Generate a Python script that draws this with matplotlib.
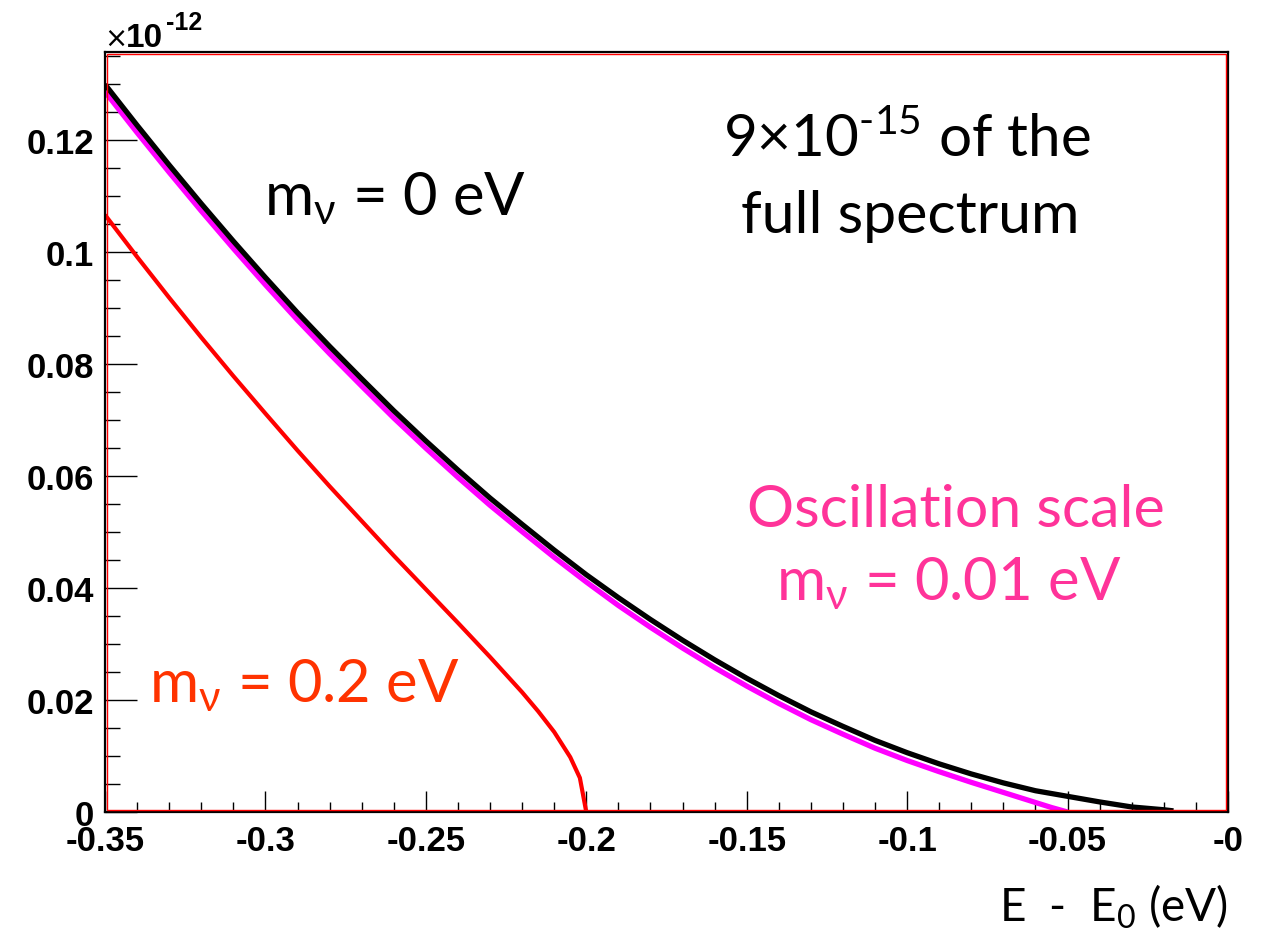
import matplotlib
matplotlib.use("Agg")
import matplotlib.pyplot as plt
from matplotlib.patches import Rectangle

# E - E0 (eV) sample points and spectrum heights (units of 1e-12)
x_m0 = [-0.35, -0.34, -0.33, -0.32, -0.31, -0.30, -0.29, -0.28, -0.27, -0.26,
        -0.25, -0.24, -0.23, -0.22, -0.21, -0.20, -0.19, -0.18, -0.17, -0.16,
        -0.15, -0.14, -0.13, -0.12, -0.11, -0.10, -0.09, -0.08, -0.07, -0.06,
        -0.05, -0.04, -0.03, -0.02, -0.017]
y_m0 = [0.1300, 0.1227, 0.1156, 0.1087, 0.1020, 0.0955, 0.0892, 0.0832, 0.0774, 0.0717,
        0.0663, 0.0611, 0.0561, 0.0514, 0.0468, 0.0424, 0.0383, 0.0344, 0.0307, 0.0272,
        0.0239, 0.0208, 0.0179, 0.0153, 0.0128, 0.0106, 0.0086, 0.0068, 0.0052, 0.0038,
        0.0028, 0.0018, 0.0009, 0.0004, 0.0002]

x_osc = [-0.35, -0.34, -0.33, -0.32, -0.31, -0.30, -0.29, -0.28, -0.27, -0.26,
         -0.25, -0.24, -0.23, -0.22, -0.21, -0.20, -0.19, -0.18, -0.17, -0.16,
         -0.15, -0.14, -0.13, -0.12, -0.11, -0.10, -0.09, -0.08, -0.07, -0.06,
         -0.055, -0.05]
y_osc = [0.1287, 0.1214, 0.1143, 0.1074, 0.1007, 0.0942, 0.0879, 0.0819, 0.0761, 0.0704,
         0.0650, 0.0598, 0.0548, 0.0501, 0.0455, 0.0411, 0.0369, 0.0330, 0.0293, 0.0258,
         0.0225, 0.0194, 0.0165, 0.0139, 0.0114, 0.0092, 0.0072, 0.0053, 0.0035, 0.0017,
         0.0008, 0.0]

x_m02 = [-0.35, -0.34, -0.33, -0.32, -0.31, -0.30, -0.29, -0.28, -0.27, -0.26,
         -0.25, -0.24, -0.23, -0.22, -0.215, -0.21, -0.205, -0.202, -0.20]
y_m02 = [0.1067, 0.0992, 0.0919, 0.0848, 0.0779, 0.0712, 0.0646, 0.0582, 0.0520, 0.0458,
         0.0398, 0.0338, 0.0277, 0.0214, 0.0180, 0.0143, 0.0098, 0.0061, 0.0]

xticks = [-0.35, -0.30, -0.25, -0.20, -0.15, -0.10, -0.05, 0.0]
xtick_labels = ["-0.35", "-0.3", "-0.25", "-0.2", "-0.15", "-0.1", "-0.05", "-0"]
yticks = [0.0, 0.02, 0.04, 0.06, 0.08, 0.1, 0.12]
ytick_labels = ["0", "0.02", "0.04", "0.06", "0.08", "0.1", "0.12"]

W, H = 1271, 937
fig = plt.figure(figsize=(W / 100, H / 100), dpi=100)
ax = fig.add_axes([105 / W, (H - 813) / H, 1123 / W, 760 / H])

ax.plot(x_osc, y_osc, color="#ff00ff", lw=3.8, solid_capstyle="butt", zorder=3)
ax.plot(x_m0, y_m0, color="black", lw=3.8, solid_capstyle="butt", zorder=4)
ax.plot(x_m02, y_m02, color="#ff0000", lw=3.0, solid_capstyle="butt", zorder=3)

ax.set_xlim(-0.35, 0.0)
ax.set_ylim(0, 0.1358)

ax.set_xticks(xticks)
ax.set_xticklabels(xtick_labels)
ax.set_xticks([i / 100 for i in range(-35, 1)], minor=True)
ax.set_yticks(yticks)
ax.set_yticklabels(ytick_labels)
ax.set_yticks([i / 200 for i in range(0, 28)], minor=True)

ax.tick_params(axis="both", which="both", direction="in", color="black", width=1.0,
               top=False, right=False)
ax.tick_params(axis="y", which="major", length=23, pad=8)
ax.tick_params(axis="y", which="minor", length=11)
ax.tick_params(axis="x", which="major", length=15, pad=9)
ax.tick_params(axis="x", which="minor", length=7.5)
for lab in ax.get_xticklabels() + ax.get_yticklabels():
    lab.set_family("Liberation Sans")
    lab.set_fontweight("bold")
    lab.set_fontsize(25)

for sp in ax.spines.values():
    sp.set_color("black")
    sp.set_linewidth(1.6)
    sp.set_zorder(6)

# thin red histogram outline sitting just inside the black frame
fig.patches.append(Rectangle((107 / W, (H - 811) / H), 1119 / W, 756 / H,
                             transform=fig.transFigure, fill=False,
                             edgecolor="#ff0000", lw=1.0, zorder=7))

# exponent of the y axis
fig.text(104 / W, 1 - 47 / H, r"$\times$", fontsize=20, color="black",
         family="Liberation Sans", ha="left", va="baseline")
fig.text(126 / W, 1 - 47 / H, "10", fontsize=24, fontweight="bold", color="black",
         family="Liberation Sans", ha="left", va="baseline")
fig.text(166 / W, 1 - 30 / H, "-12", fontsize=18, fontweight="bold", color="black",
         family="Liberation Sans", ha="left", va="baseline")

txt = dict(family="Lato", ha="center", va="baseline")
fig.text(395 / W, 1 - 215 / H, r"m$_\mathregular{ν}$ = 0 eV", fontsize=43, color="black", **txt)
fig.text(907 / W, 1 - 157 / H, r"9×10$^\mathregular{‐15}$ of the", fontsize=42, color="black", **txt)
fig.text(910 / W, 1 - 233 / H, "full spectrum", fontsize=42.5, color="black", **txt)
fig.text(956 / W, 1 - 527 / H, "Oscillation scale", fontsize=42.5, color="#ff3399", **txt)
fig.text(949 / W, 1 - 600 / H, r"m$_\mathregular{ν}$ = 0.01 eV", fontsize=43, color="#ff3399", **txt)
fig.text(304 / W, 1 - 702 / H, r"m$_\mathregular{ν}$ = 0.2 eV", fontsize=43, color="#ff3300", **txt)

fig.text(1228 / W, 1 - 922 / H, r"E  -  E$_\mathregular{0}$ (eV)", fontsize=33, color="black",
         family="Lato", ha="right", va="baseline")

fig.savefig("out.png", dpi=100)
